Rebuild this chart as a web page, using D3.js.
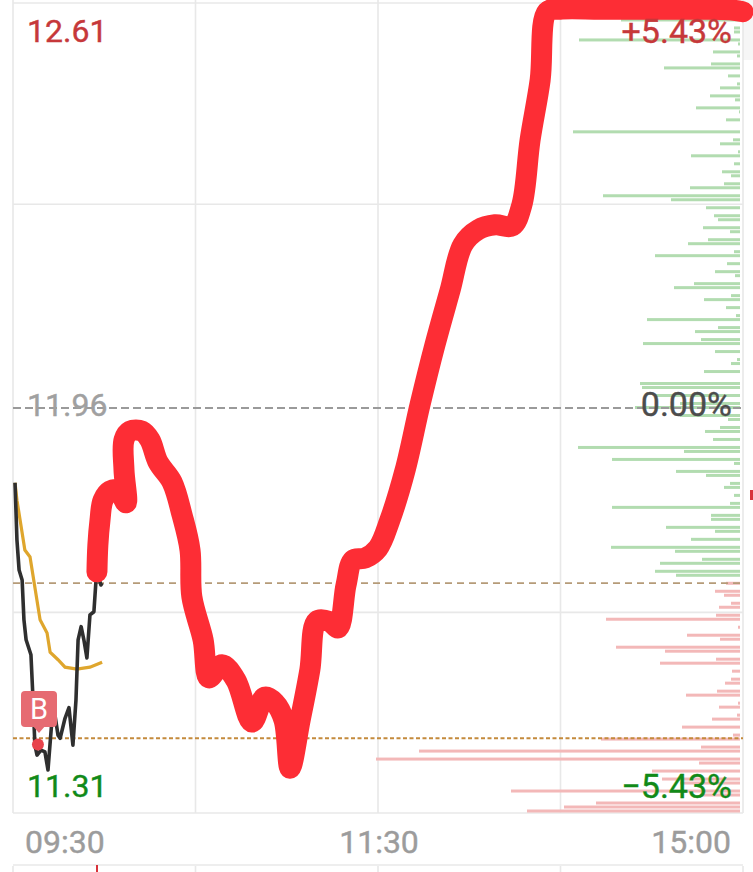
<!DOCTYPE html>
<html><head><meta charset="utf-8">
<script src="https://cdn.jsdelivr.net/npm/d3@7"></script>
<style>html,body{margin:0;padding:0;background:#fff}svg{display:block}text{font-family:Roboto,sans-serif}</style>
</head><body><svg id="c" width="753" height="872"></svg>
<script>
const redT=[27.6,27.9,28.6,29.6,31.9,34.5,37.2,36.5,36.5,38.5,42.4,45,47.7,52.3,55.6,58.2,58.8,62.5,64.4,68.7,73.3,78.6,82.8,86.1,89.1,91.1,94.4,97.6,99.9,104.2,106.9,109.5,111.8,115.7,120,123.9,128.9,133.8,138.7,143.7,147.9,152.9,158.5,164.1,167.3,170,173.3,175.6,179.8,193,209.4,225.9,235.7,240];
const redP=[11.697,11.74,11.78,11.812,11.827,11.828,11.808,11.86,11.909,11.923,11.923,11.909,11.873,11.841,11.788,11.732,11.657,11.588,11.527,11.548,11.523,11.456,11.496,11.487,11.459,11.382,11.459,11.54,11.618,11.617,11.607,11.676,11.716,11.719,11.735,11.78,11.86,11.965,12.061,12.149,12.222,12.246,12.254,12.252,12.286,12.39,12.486,12.596,12.6,12.6,12.6,12.6,12.599,12.596];
const blackT=[0.66,1.3,2,3,3.6,4.3,5.9,6.6,7.2,7.9,9.2,10.5,11.5,12.8,13.8,14.8,15.5,17.1,18.4,19.7,20.7,21.4,22.4,23.3,24.3,25.3,26.6,27.3,27.9,28.9,29.3];
const blackP=[11.84,11.748,11.7,11.684,11.62,11.588,11.564,11.491,11.419,11.403,11.411,11.408,11.379,11.459,11.467,11.435,11.43,11.462,11.479,11.419,11.491,11.588,11.609,11.588,11.559,11.628,11.633,11.684,11.692,11.676,11.679];
const avgT=[0.66,1.3,3.9,5.6,8.9,11.2,12.2,14.8,17.1,21,25.3,29.3];
const avgP=[11.84,11.812,11.732,11.721,11.62,11.599,11.568,11.556,11.544,11.541,11.544,11.552];
const greenLevels=[5,7,8,10,11,13,14,16,17,19,21,22,24,25,27,28,30,33,35,36,38,39,41,43,44,46,47,49,50,52,54,55,57,58,60,61,63,64,66,68,69,71,72,74,75,77,79,80,82,83,85,86,88,90,91,93,96,97,99,101,102,104,105,107,108,110,112,113,115,116,118,119,121,122,124,126,127,129,130,132,133,135,137,138,140,141,143,144];
const greenVol=[119,6,6,161,2,27,3,29,76,12,3,20,30,5,44,1,14,167,7,20,2,49,6,18,9,16,50,137,69,34,26,22,37,10,32,52,6,85,13,25,5,46,66,9,36,14,4,93,22,45,39,97,25,3,9,36,100,98,85,60,105,60,12,20,35,27,162,56,128,6,64,34,10,16,6,10,128,29,29,74,25,49,129,65,38,80,85,64];
const redLevels=[146,148,149,151,152,154,155,157,159,160,162,163,165,166,168,170,171,173,174,176,177,179,180,182,184,185,187,188,190,191,193,195,196,198,199,201,202,203];
const redVol=[14,25,16,9,21,24,134,2,53,20,124,75,24,80,8,9,15,23,54,2,21,3,28,58,7,139,39,321,364,41,88,78,60,229,40,144,176,213];
const priceTop=12.61,priceBase=11.96,priceLow=11.31;
const priceLabels=["12.61","11.96","11.31"];
const pctLabels=["+5.43%","0.00%","−5.43%"];
const timeLabels=["09:30","11:30","15:00"];
const timeTicks=[0,120,240];
const gridTimes=[0,60,120,180,240];
const gridPrices=[12.61,12.287,11.632,11.31];
const refPrices=[11.679,11.43];

const svg=d3.select("#c");
const x=d3.scaleLinear().domain([0,240]).range([13,743]);
const y=d3.scaleLinear().domain([priceLow,priceTop]).range([813,3]);
const row=d3.scaleLinear().domain([0,203]).range([0,811]);
const vol=d3.scaleLinear().domain([0,364]).range([0,364]);
const barR=740;

svg.append("rect").attr("x",743).attr("y",0).attr("width",10).attr("height",60).attr("fill","#f6f6f6");
const grid=svg.append("g").attr("stroke","#e8e8e8").attr("stroke-width",1.6);
grid.selectAll("line.v").data(gridTimes).join("line").attr("class","v").attr("x1",d=>x(d)).attr("x2",d=>x(d)).attr("y1",0).attr("y2",813);
grid.selectAll("line.w").data(gridTimes).join("line").attr("class","w").attr("x1",d=>x(d)).attr("x2",d=>x(d)).attr("y1",866).attr("y2",872);
grid.selectAll("line.h").data(gridPrices).join("line").attr("class","h").attr("x1",13).attr("x2",743).attr("y1",d=>y(d)).attr("y2",d=>y(d));
grid.append("line").attr("x1",13).attr("x2",743).attr("y1",865).attr("y2",865);

const bars=(lv,vs,col)=>svg.append("g").selectAll("rect").data(lv).join("rect")
 .attr("x",(d,i)=>barR-vol(vs[i])).attr("y",d=>row(d)-1.5).attr("width",(d,i)=>vol(vs[i])).attr("height",3).attr("fill",col);
bars(greenLevels,greenVol,"#b2dcb0");
bars(redLevels,redVol,"#f3b8b8");

svg.append("line").attr("x1",13).attr("x2",743).attr("y1",y(priceBase)).attr("y2",y(priceBase)).attr("stroke","#9a9a9a").attr("stroke-width",1.8).attr("stroke-dasharray","8 4");
svg.append("line").attr("x1",13).attr("x2",743).attr("y1",y(refPrices[0])).attr("y2",y(refPrices[0])).attr("stroke","#b59b78").attr("stroke-width",1.8).attr("stroke-dasharray","7 5");
svg.append("line").attr("x1",13).attr("x2",743).attr("y1",y(refPrices[1])).attr("y2",y(refPrices[1])).attr("stroke","#c48a3c").attr("stroke-width",1.8).attr("stroke-dasharray","4 2.5");

const line=d3.line().x(d=>x(d[0])).y(d=>y(d[1]));
svg.append("path").attr("d",line.curve(d3.curveLinear)(d3.zip(avgT,avgP))).attr("fill","none").attr("stroke","#dfa62d").attr("stroke-width",3.2);
svg.append("path").attr("d",line.curve(d3.curveLinear)(d3.zip(blackT,blackP))).attr("fill","none").attr("stroke","#2f2f2f").attr("stroke-width",3.6).attr("stroke-linejoin","round");
svg.append("path").attr("d",line.curve(d3.curveCatmullRom)(d3.zip(redT,redP))).attr("fill","none").attr("stroke","#fd2d35").attr("stroke-width",21).attr("stroke-linecap","round").attr("stroke-linejoin","round");

// buy marker
svg.append("circle").attr("cx",x(8.2)).attr("cy",y(11.42)).attr("r",6).attr("fill","#e8434c");
svg.append("path").attr("d","M32 725L39 733L46 725Z").attr("fill","#e66b72");
svg.append("rect").attr("x",21).attr("y",691).attr("width",36).attr("height",36).attr("rx",4).attr("fill","#e66b72");
svg.append("text").attr("x",39).attr("y",719).attr("text-anchor","middle").attr("font-size",29).attr("fill","#fff").text("B");

const lab=(tx,px,anc,col,s,fs)=>svg.append("text").attr("x",tx).attr("y",px).attr("text-anchor",anc).attr("font-size",fs).attr("fill",col).attr("stroke",col).attr("stroke-width",0.4).text(s);
lab(27,42,"start","#c6383a",priceLabels[0],32);
lab(27,416,"start","#a0a0a0",priceLabels[1],32);
lab(27,797,"start","#118a18",priceLabels[2],32);
lab(732,43,"end","#c6383a",pctLabels[0],34);
lab(732,416,"end","#4c4c4c",pctLabels[1],34);
lab(732,798,"end","#118a18",pctLabels[2],34);
svg.append("g").selectAll("text").data(timeTicks).join("text")
 .attr("x",(d,i)=>[25,379,731][i]).attr("y",853).attr("text-anchor",(d,i)=>["start","middle","end"][i])
 .attr("font-size",32).attr("fill","#9c9c9c").attr("stroke","#9c9c9c").attr("stroke-width",0.4).text((d,i)=>timeLabels[i]);
svg.append("rect").attr("x",750).attr("y",490).attr("width",3).attr("height",10).attr("fill","#d8323a");
svg.append("rect").attr("x",96).attr("y",865).attr("width",2).attr("height",7).attr("fill","#d8323a");
</script></body></html>
